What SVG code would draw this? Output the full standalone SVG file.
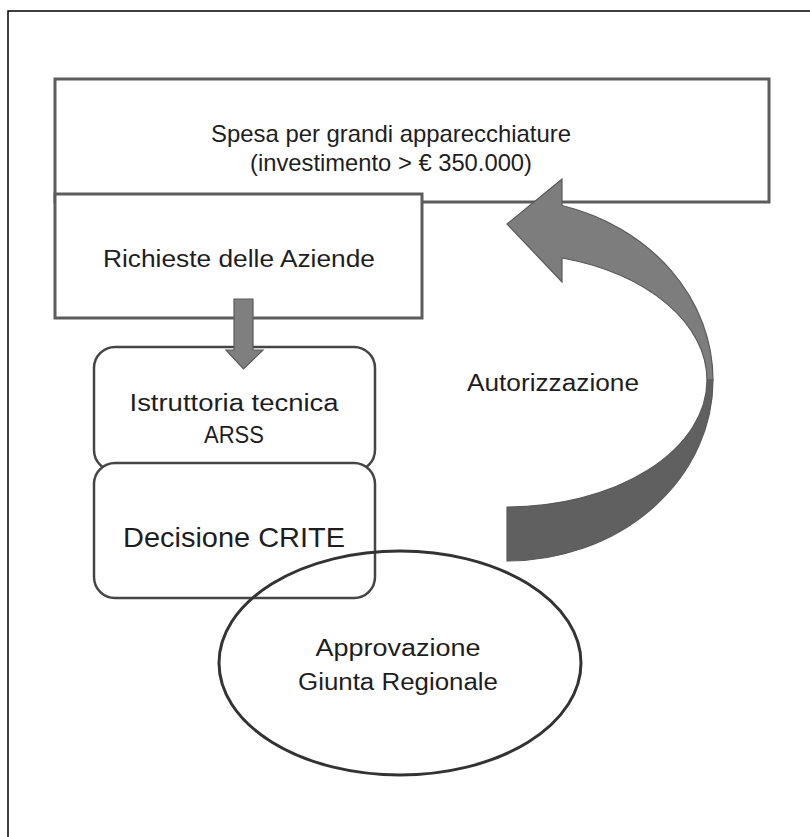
<svg xmlns="http://www.w3.org/2000/svg" width="810" height="837" viewBox="0 0 810 837">
  <style>
    .lbl { font-family: "Liberation Sans", Arial, sans-serif; fill: #1e1e1e; text-anchor: middle; }
    .sq { fill: #ffffff; stroke: #5c5c5c; stroke-width: 3; }
    .rnd { fill: #ffffff; stroke: #454545; stroke-width: 2.5; }
    .arr { stroke: #5a5a5a; stroke-width: 1.2; stroke-linejoin: miter; }
  </style>
  <rect width="810" height="837" fill="#ffffff"/>
  <!-- page frame (right and bottom edges fall outside the canvas) -->
  <rect x="8" y="11" width="830" height="860" fill="none" stroke="#000000" stroke-width="1.5"/>

  <g id="spesa">
    <rect class="sq" x="55" y="79" width="714" height="123"/>
    <text class="lbl" x="391" y="142" font-size="24" textLength="360" lengthAdjust="spacingAndGlyphs">Spesa per grandi  apparecchiature</text>
    <text class="lbl" x="391" y="171" font-size="24" textLength="282" lengthAdjust="spacingAndGlyphs">(investimento &gt; € 350.000)</text>
  </g>

  <g id="richieste">
    <rect class="sq" x="55" y="194" width="367" height="124"/>
    <text class="lbl" x="239" y="267" font-size="23" textLength="272" lengthAdjust="spacingAndGlyphs">Richieste delle Aziende</text>
  </g>

  <g id="istruttoria">
    <rect class="rnd" x="94" y="347" width="281" height="124" rx="21" ry="21"/>
    <text class="lbl" x="234" y="411" font-size="23" textLength="209" lengthAdjust="spacingAndGlyphs">Istruttoria tecnica</text>
    <text class="lbl" x="234" y="443" font-size="23" textLength="60" lengthAdjust="spacingAndGlyphs">ARSS</text>
  </g>

  <g id="decisione">
    <rect class="rnd" x="94" y="463" width="281" height="135" rx="21" ry="21"/>
    <text class="lbl" x="234" y="547" font-size="28" textLength="222" lengthAdjust="spacingAndGlyphs">Decisione CRITE</text>
  </g>

  <g id="giunta">
    <ellipse cx="400" cy="663" rx="181" ry="112" fill="none" stroke="#333333" stroke-width="3"/>
    <text class="lbl" x="398" y="656" font-size="23" textLength="165" lengthAdjust="spacingAndGlyphs">Approvazione</text>
    <text class="lbl" x="398" y="690" font-size="23" textLength="200" lengthAdjust="spacingAndGlyphs">Giunta Regionale</text>
  </g>

  <g id="connectors">
    <!-- Richieste -> Istruttoria -->
    <path class="arr" fill="#7f7f7f" d="M234,299 L253,299 L253,350 L263,350 L243.5,369 L226,350 L234,350 Z"/>
    <!-- Autorizzazione: curved return arrow, upper (light) half with head -->
    <path class="arr" fill="#7d7d7d" d="M562,205.5 A206,181 0 0 1 713,380 L707,380 A200,127 0 0 0 562,258 L562,282 L507,224 L562,179 Z"/>
    <!-- lower (shaded) half of the curved arrow -->
    <path class="arr" fill="#606060" d="M713,380 A206,181 0 0 1 507,561 L507,507 A200,127 0 0 0 707,380 Z"/>
    <text class="lbl" x="553" y="391" font-size="23" textLength="172" lengthAdjust="spacingAndGlyphs">Autorizzazione</text>
  </g>
</svg>
